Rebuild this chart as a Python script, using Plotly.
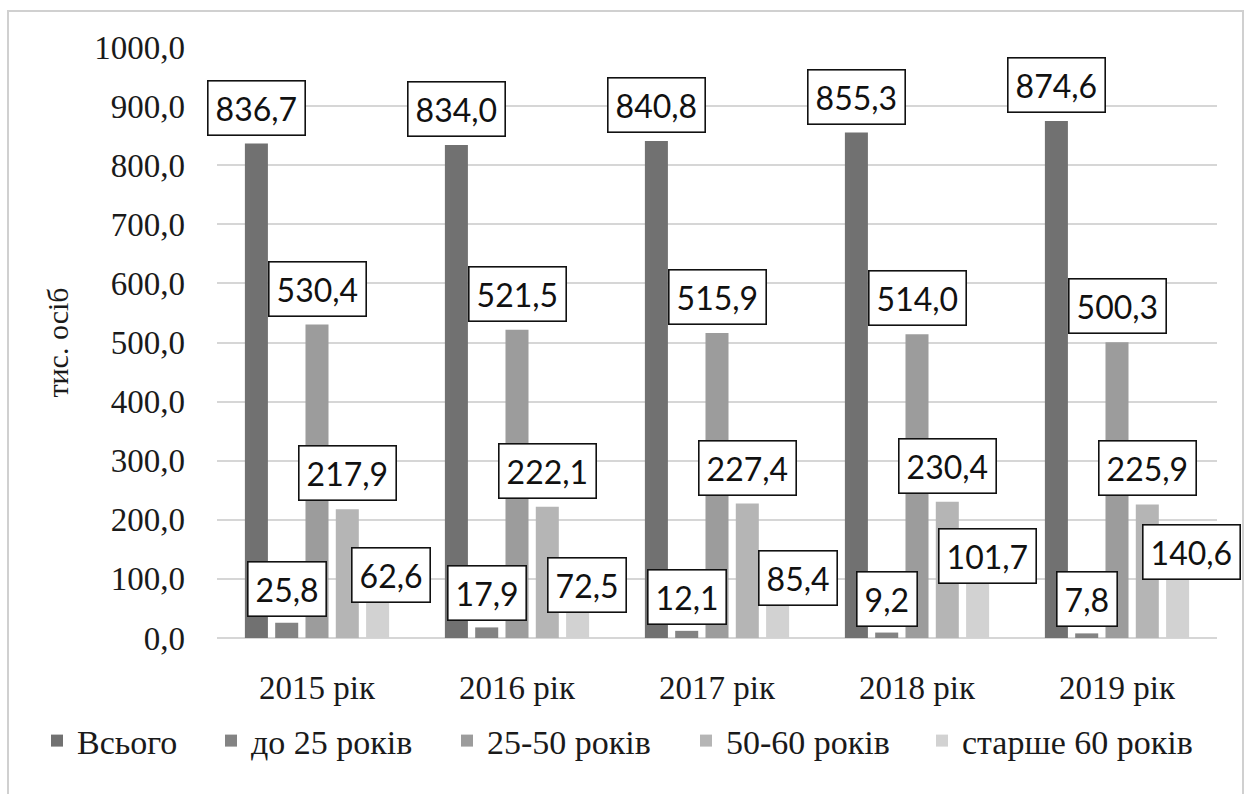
import plotly.graph_objects as go

# --- data -------------------------------------------------------------
years = ["2015 рік", "2016 рік", "2017 рік", "2018 рік", "2019 рік"]
series_names = ["Всього", "до 25 років", "25-50 років", "50-60 років", "старше 60 років"]

total = [836.7, 834.0, 840.8, 855.3, 874.6]
under_25 = [25.8, 17.9, 12.1, 9.2, 7.8]
age_25_50 = [530.4, 521.5, 515.9, 514.0, 500.3]
age_50_60 = [217.9, 222.1, 227.4, 230.4, 225.9]
over_60 = [62.6, 72.5, 85.4, 101.7, 140.6]

y_tick_values = [0, 100, 200, 300, 400, 500, 600, 700, 800, 900, 1000]
y_tick_labels = ["0,0", "100,0", "200,0", "300,0", "400,0", "500,0",
                 "600,0", "700,0", "800,0", "900,0", "1000,0"]
y_title = "тис. осіб"

# --- styling ----------------------------------------------------------
series_values = [total, under_25, age_25_50, age_50_60, over_60]
colors = ["#717171", "#838383", "#9c9c9c", "#b5b5b5", "#d2d2d2"]

SERIF = "Liberation Serif"
LABEL_FONT = "Lato"

PLOT_L = 217.0    # px left edge of plotting area
PLOT_B = 638.0    # px bottom edge of plotting area
PLOT_W = 1000.0   # px width of plotting area
PLOT_H = 591.0    # px height of plotting area
SLOT = 30.3       # px distance between neighbouring bars of a group

# label box centre above the bar top (px), per series
label_lift = [36, 34, 36, 36, None]
# the last series has hand-placed labels: (extra x shift, lift)
over_60_label_pos = [(13, 26), (9, 10), (20, 10), (10, 22), (14, 3)]

# left edge (px) of each legend entry, laid out in one row
legend_left_px = [37, 211, 447, 686, 922]
legend_mid_px = 741


def fmt(v):
    return f"{v:.1f}".replace(".", ",")


fig = go.Figure()
legend_ids = ["legend"] + [f"legend{i}" for i in range(2, len(series_names) + 1)]
for name, vals, col, lid in zip(series_names, series_values, colors, legend_ids):
    fig.add_trace(go.Bar(
        name=name, x=years, y=vals, marker=dict(color=col, line=dict(width=0)),
        hoverinfo="skip", legend=lid,
    ))

annotations = []
for si, vals in enumerate(series_values):
    for yi, v in enumerate(vals):
        dx = (si - 2) * SLOT
        if si == 4:
            extra, lift = over_60_label_pos[yi]
            dx += extra
        else:
            lift = label_lift[si]
        annotations.append(dict(
            x=years[yi], y=v, xref="x", yref="y",
            xshift=dx, yshift=lift, showarrow=False,
            text=fmt(v), xanchor="center", yanchor="middle",
            font=dict(family=LABEL_FONT, size=32, color="#111111"),
            bgcolor="white", bordercolor="#111111", borderwidth=1.6, borderpad=7,
        ))

# outer frame of the chart sheet
shapes = [dict(
    type="rect", xref="paper", yref="paper",
    x0=(8 - PLOT_L) / PLOT_W, x1=(1243 - PLOT_L) / PLOT_W,
    y0=(PLOT_B - 805) / PLOT_H, y1=(PLOT_B - 11) / PLOT_H,
    line=dict(color="#d0d0d0", width=2), fillcolor="rgba(0,0,0,0)", layer="below",
)]

legend_layouts = {}
for lid, left in zip(legend_ids, legend_left_px):
    legend_layouts[lid] = dict(
        orientation="h", x=(left - PLOT_L) / PLOT_W,
        y=(PLOT_B - legend_mid_px) / PLOT_H, xanchor="left", yanchor="middle",
        font=dict(family=SERIF, size=34, color="#1a1a1a"),
        itemwidth=30, bgcolor="rgba(0,0,0,0)",
    )

fig.update_layout(
    width=1249, height=794,
    margin=dict(l=217, r=32, t=47, b=156, autoexpand=False),
    paper_bgcolor="white", plot_bgcolor="white",
    barmode="group", bargap=0.2425, bargroupgap=0.24,
    font=dict(family=SERIF, color="#1a1a1a"),
    showlegend=True,
    annotations=annotations,
    shapes=shapes,
    hovermode=False,
    **legend_layouts,
)

fig.update_xaxes(
    range=[-0.5, len(years) - 0.5],
    showgrid=False, showline=False, zeroline=False,
    ticks="", ticklabelstandoff=27,
    tickfont=dict(family=SERIF, size=33, color="#1a1a1a"),
)
fig.update_yaxes(
    range=[0, 1000], tickvals=y_tick_values, ticktext=y_tick_labels,
    showgrid=True, gridcolor="#d6d6d6", gridwidth=2,
    zeroline=True, zerolinecolor="#d6d6d6", zerolinewidth=2,
    showline=False, ticks="", ticklabelstandoff=31,
    tickfont=dict(family=SERIF, size=33, color="#1a1a1a"),
    title=dict(text=y_title, font=dict(family=SERIF, size=30, color="#1a1a1a"),
               standoff=16),
)

fig.write_html("out.html")
